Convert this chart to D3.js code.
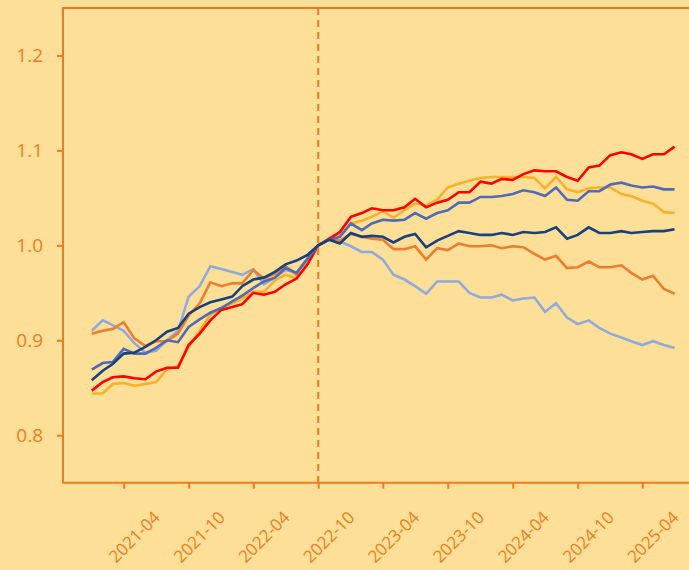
<!DOCTYPE html>
<html>
<head>
<meta charset="utf-8">
<script src="https://cdn.jsdelivr.net/npm/d3@7"></script>
<style>
  html, body { margin: 0; padding: 0; background: #fedf97; }
  svg { display: block; }
</style>
</head>
<body>
<svg id="chart" width="689" height="570"></svg>
<script>
// ---- data ----
const startMonth = "2021-01";
const endMonth = "2025-07";
const tickLabels = ["2021-04","2021-10","2022-04","2022-10","2023-04","2023-10","2024-04","2024-10","2025-04"];
const yTicks = [0.8, 0.9, 1.0, 1.1, 1.2];
const baseMonth = "2022-10";

const seriesRed = [0.847,0.856,0.861,0.862,0.860,0.859,0.867,0.871,0.871,0.895,0.907,0.921,0.932,0.935,0.938,0.950,0.948,0.951,0.959,0.965,0.980,1.000,
  1.007,1.014,1.030,1.034,1.039,1.037,1.037,1.040,1.049,1.040,1.045,1.048,1.056,1.056,1.067,1.065,1.070,1.069,1.075,1.079,1.078,1.078,1.072,1.068,1.082,1.084,1.095,1.098,1.096,1.091,1.096,1.096,1.104];
const seriesGold = [0.844,0.844,0.854,0.855,0.852,0.854,0.856,0.869,0.873,0.893,0.910,0.927,0.934,0.939,0.944,0.951,0.951,0.963,0.969,0.965,0.984,1.000,
  1.006,1.011,1.023,1.026,1.030,1.036,1.029,1.037,1.044,1.042,1.048,1.061,1.065,1.068,1.071,1.072,1.072,1.072,1.072,1.071,1.060,1.072,1.059,1.056,1.060,1.061,1.061,1.054,1.052,1.047,1.044,1.035,1.034];
const seriesMidBlue = [0.869,0.876,0.877,0.891,0.886,0.886,0.892,0.900,0.898,0.914,0.922,0.929,0.934,0.941,0.947,0.955,0.962,0.966,0.976,0.971,0.986,1.000,
  1.006,1.009,1.023,1.016,1.023,1.027,1.026,1.027,1.034,1.028,1.034,1.037,1.045,1.045,1.051,1.051,1.052,1.054,1.058,1.056,1.052,1.061,1.048,1.047,1.057,1.057,1.064,1.066,1.063,1.061,1.062,1.059,1.059];
const seriesNavy = [0.858,0.868,0.875,0.886,0.887,0.893,0.900,0.909,0.913,0.928,0.935,0.940,0.943,0.946,0.957,0.964,0.966,0.972,0.980,0.984,0.990,1.000,
  1.006,1.002,1.013,1.009,1.010,1.009,1.003,1.009,1.012,0.998,1.005,1.010,1.015,1.013,1.011,1.011,1.013,1.011,1.014,1.013,1.014,1.019,1.007,1.011,1.019,1.013,1.013,1.015,1.013,1.014,1.015,1.015,1.017];
const seriesOrange = [0.907,0.910,0.912,0.919,0.902,0.894,0.899,0.899,0.907,0.926,0.939,0.961,0.957,0.960,0.960,0.974,0.965,0.970,0.978,0.969,0.985,1.000,
  1.006,1.005,1.012,1.009,1.007,1.006,0.996,0.996,0.999,0.985,0.997,0.995,1.002,0.999,0.999,1.000,0.997,0.999,0.998,0.991,0.985,0.989,0.976,0.977,0.983,0.977,0.977,0.979,0.971,0.964,0.968,0.954,0.949];
const seriesLightBlue = [0.910,0.921,0.916,0.910,0.897,0.887,0.889,0.900,0.910,0.946,0.957,0.978,0.975,0.972,0.969,0.975,0.959,0.966,0.974,0.971,0.986,1.000,
  1.006,1.004,0.999,0.993,0.993,0.985,0.969,0.964,0.957,0.949,0.962,0.962,0.962,0.950,0.945,0.945,0.948,0.942,0.944,0.945,0.930,0.939,0.924,0.917,0.921,0.913,0.907,0.903,0.899,0.895,0.899,0.895,0.892];

const seriesList = [
  {values: seriesLightBlue, color: "#8faadc"},
  {values: seriesOrange, color: "#ed7d31"},
  {values: seriesGold, color: "#f7b12a"},
  {values: seriesRed, color: "#ff0000"},
  {values: seriesMidBlue, color: "#4f6bb6"},
  {values: seriesNavy, color: "#183f7e"}
];

// ---- layout ----
const W = 689, H = 570;
const mLeft = 63, mTop = 8, mBottom = 482.7, mRight = 704;
const axisColor = "#ee7d22";
const parse = d3.timeParse("%Y-%m");
const months = d3.timeMonth.range(parse(startMonth), d3.timeMonth.offset(parse(endMonth), 1));

const x = d3.scaleTime()
  .domain([parse("2021-04"), parse("2025-04")])
  .range([123.7, 642.3]);
const y = d3.scaleLinear().domain([0.75, 1.25]).range([mBottom, mTop]);

const svg = d3.select("#chart");
svg.append("rect").attr("width", W).attr("height", H).attr("fill", "#fedf97");

// lines
const line = d3.line().x((d, i) => x(months[i])).y(d => y(d));
svg.append("g").selectAll("path").data(seriesList).join("path")
  .attr("d", d => line(d.values))
  .attr("fill", "none")
  .attr("stroke", d => d.color)
  .attr("stroke-width", 2.6)
  .attr("stroke-linejoin", "miter");

// dashed vertical reference line
svg.append("line")
  .attr("x1", x(parse(baseMonth))).attr("x2", x(parse(baseMonth)))
  .attr("y1", mTop).attr("y2", mBottom)
  .attr("stroke", axisColor).attr("stroke-width", 2)
  .attr("stroke-dasharray", "7,5");

// frame
svg.append("path")
  .attr("d", `M${mRight},${mTop}H${mLeft}V${mBottom}H${mRight}`)
  .attr("fill", "none").attr("stroke", axisColor).attr("stroke-width", 2);

// y axis
const yAxis = svg.append("g").attr("transform", `translate(${mLeft},0)`)
  .call(d3.axisLeft(y).tickValues(yTicks).tickFormat(d3.format(".1f")).tickSize(6).tickSizeOuter(0).tickPadding(14));
yAxis.select(".domain").remove();
yAxis.selectAll("line").attr("stroke", axisColor).attr("stroke-width", 2);
yAxis.selectAll("text").attr("fill", axisColor).style("font-family", "'Open Sans', sans-serif").style("font-size", "19px");

// x axis
const xAxis = svg.append("g").attr("transform", `translate(0,${mBottom})`)
  .call(d3.axisBottom(x).tickValues(tickLabels.map(parse)).tickFormat(d3.timeFormat("%Y-%m")).tickSize(6).tickSizeOuter(0));
xAxis.select(".domain").remove();
xAxis.selectAll("line").attr("stroke", axisColor).attr("stroke-width", 2);
xAxis.selectAll("text")
  .attr("fill", axisColor)
  .style("font-family", "'Open Sans', sans-serif").style("font-size", "17px")
  .attr("text-anchor", "end")
  .attr("dy", null).attr("y", null)
  .attr("transform", "translate(37,36) rotate(-45)");
</script>
</body>
</html>
